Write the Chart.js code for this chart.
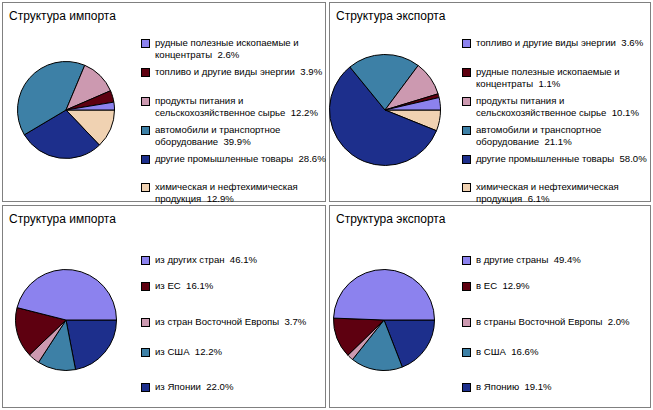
<!DOCTYPE html>
<html><head><meta charset="utf-8">
<script src="https://cdn.jsdelivr.net/npm/chart.js"></script>
<style>
body{margin:0;background:#fff;font-family:Arial,"Liberation Sans",sans-serif;}
.panel{position:absolute;border:1px solid #808080;background:#fff;}
.title{position:absolute;left:6px;top:6px;font-size:12px;color:#000;}
.leg{position:absolute;font-size:9.6px;color:#000;line-height:12px;}
.sq{position:absolute;left:0;top:2px;width:7px;height:7px;border:1px solid #000;}
.tx{position:absolute;left:14px;top:0;width:180px;}
canvas{position:absolute;}
</style></head><body>
<script>
const titles = ["Структура импорта","Структура экспорта","Структура импорта","Структура экспорта"];
const impLabels = ["рудные полезные ископаемые и концентраты","топливо и другие виды энергии","продукты питания и сельскохозяйственное сырье","автомобили и транспортное оборудование","другие промышленные товары","химическая и нефтехимическая продукция"];
const impValues = [2.6,3.9,12.2,39.9,28.6,12.9];
const expLabels = ["топливо и другие виды энергии","рудные полезные ископаемые и концентраты","продукты питания и сельскохозяйственное сырье","автомобили и транспортное оборудование","другие промышленные товары","химическая и нефтехимическая продукция"];
const expValues = [3.6,1.1,10.1,21.1,58.0,6.1];
const impGeoLabels = ["из других стран","из ЕС","из стран Восточной Европы","из США","из Японии"];
const impGeoValues = [46.1,16.1,3.7,12.2,22.0];
const expGeoLabels = ["в другие страны","в ЕС","в страны Восточной Европы","в США","в Японию"];
const expGeoValues = [49.4,12.9,2.0,16.6,19.1];
const colors = ["#8c82ee","#5e0010","#cc99b0","#3d80a6","#1d2f8c","#f0d2b2"];

const panels = [
 {x:2,y:2,w:324,h:200,lab:impLabels,val:impValues,cx:66,cy:110,r:48,lx:141,ly:[37,66,95,124,153,181],
  brk:["рудные полезные ископаемые и<br>концентраты","топливо и другие виды энергии","продукты питания и<br>сельскохозяйственное сырье","автомобили и транспортное<br>оборудование","другие промышленные товары","химическая и нефтехимическая<br>продукция"]},
 {x:329,y:2,w:322,h:200,lab:expLabels,val:expValues,cx:385,cy:110,r:55,lx:462,ly:[37,66,95,124,153,181],
  brk:["топливо и другие виды энергии","рудные полезные ископаемые и<br>концентраты","продукты питания и<br>сельскохозяйственное сырье","автомобили и транспортное<br>оборудование","другие промышленные товары","химическая и нефтехимическая<br>продукция"]},
 {x:2,y:205,w:324,h:203,lab:impGeoLabels,val:impGeoValues,cx:66,cy:320,r:50,lx:141,ly:[254,280,316,346,381]},
 {x:329,y:205,w:322,h:203,lab:expGeoLabels,val:expGeoValues,cx:384,cy:320,r:50,lx:462,ly:[254,280,316,346,381]}
];
panels.forEach((p,i)=>{
  const d=document.createElement('div');d.className='panel';
  Object.assign(d.style,{left:p.x+'px',top:p.y+'px',width:(p.w-2)+'px',height:(p.h-2)+'px'});
  d.innerHTML='<div class="title">'+titles[i]+'</div>';
  document.body.appendChild(d);
  p.lab.forEach((l,k)=>{
    const e=document.createElement('div');e.className='leg';
    e.style.left=(p.lx)+'px';e.style.top=(p.ly[k])+'px';
    const txt=(p.brk?p.brk[k]:l)+'&nbsp; '+p.val[k].toFixed(1)+'%';
    e.innerHTML='<div class="sq" style="background:'+colors[k]+'"></div><div class="tx">'+txt+'</div>';
    document.body.appendChild(e);
  });
  const c=document.createElement('canvas');
  const s=2*p.r+4;
  c.width=s;c.height=s;c.style.width=s+'px';c.style.height=s+'px';
  c.style.left=(p.cx-s/2)+'px';c.style.top=(p.cy-s/2)+'px';
  document.body.appendChild(c);
  const vals=p.val.slice().reverse();
  const cols=colors.slice(0,p.val.length).reverse();
  new Chart(c,{type:'pie',data:{labels:p.lab.slice().reverse(),datasets:[{data:vals,backgroundColor:cols,borderColor:'#000',borderWidth:1}]},
    options:{responsive:false,animation:false,rotation:90,layout:{padding:1},plugins:{legend:{display:false},tooltip:{enabled:false}}}});
});
</script>
</body></html>
